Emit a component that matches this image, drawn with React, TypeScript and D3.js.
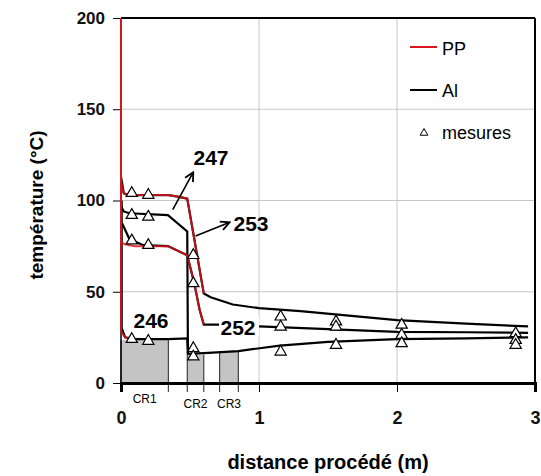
import React, { useRef, useEffect } from 'react';
import * as d3 from 'd3';

// simulated profiles (Al = black, PP = red), [distance m, temperature °C]
const al1: [number, number][] = [[0, 113], [0.02, 104], [0.05, 103], [0.34, 103], [0.42, 102], [0.48, 101], [0.6, 49], [0.65, 47], [0.81, 43], [1.0, 41], [1.3, 39.4], [2.0, 34.5], [2.5, 32.5], [2.95, 31]];
const al2: [number, number][] = [[0, 97], [0.02, 94], [0.06, 93], [0.34, 92], [0.48, 83], [0.485, 16]];
const al3: [number, number][] = [[0.005, 88], [0.06, 79], [0.16, 75.5], [0.34, 75], [0.48, 70], [0.53, 55], [0.57, 40], [0.6, 32], [0.7, 32], [1.0, 31], [1.5, 29.5], [2.0, 28], [2.5, 27.8], [2.95, 27.5]];
const al4: [number, number][] = [[0.005, 100], [0.005, 30], [0.03, 25], [0.1, 24], [0.34, 24], [0.48, 24.5], [0.485, 16], [0.6, 16.4], [0.85, 17.5], [1.15, 20.5], [1.5, 22.5], [2.0, 24], [2.5, 24.5], [2.95, 25]];

const pp1: [number, number][] = [[0, 200], [0, 110], [0.02, 104], [0.05, 103], [0.34, 103], [0.42, 102], [0.48, 101], [0.6, 49]];
const pp3: [number, number][] = [[0, 200], [0, 77], [0.03, 76], [0.1, 75], [0.34, 75], [0.48, 70], [0.53, 55], [0.57, 40], [0.6, 32]];
const pp4: [number, number][] = [[0, 200], [0, 28], [0.03, 25], [0.08, 24]];

// measurements
const mesX = [0.078, 0.198, 0.078, 0.198, 0.078, 0.198, 0.078, 0.198, 0.524, 0.524, 0.524, 0.524, 1.157, 1.157, 1.157, 1.558, 1.558, 1.558, 2.034, 2.034, 2.034, 2.86, 2.86, 2.86];
const mesT = [104, 103, 92, 91, 78, 75.5, 24, 23, 70, 54.6, 19, 14.4, 36.3, 30.8, 17.1, 33.6, 30.8, 20.8, 31.8, 26.3, 21.7, 27.2, 23.5, 20.8];

// cooling zones
const crNames = ['CR1', 'CR2', 'CR3'];
const crStart = [0, 0.48, 0.715];
const crEnd = [0.343, 0.6, 0.85];
const crTop = [23.5, 15.5, 17.5];

const xTicks = [0, 1, 2, 3];
const yTicks = [0, 50, 100, 150, 200];

const App: React.FC = () => {
  const svgRef = useRef<SVGSVGElement | null>(null);

  useEffect(() => {
    if (!svgRef.current) return;
    const svg = d3.select(svgRef.current);
    svg.selectAll('*').remove();

    const font = '"Liberation Sans", Arial, sans-serif';
    const red = '#d8141f';
    const x = d3.scaleLinear().domain([0, 3]).range([121, 535]);
    const y = d3.scaleLinear().domain([0, 200]).range([383, 18]);
    const line = d3.line<[number, number]>().x(d => x(d[0])).y(d => y(d[1]));

    // zones
    crNames.forEach((name, i) => {
      svg.append('rect')
        .attr('x', x(crStart[i])).attr('y', y(crTop[i]))
        .attr('width', x(crEnd[i]) - x(crStart[i])).attr('height', y(0) - y(crTop[i]))
        .attr('fill', '#c4c4c4');
      [crStart[i], crEnd[i]].forEach(v => {
        svg.append('line')
          .attr('x1', x(v)).attr('x2', x(v))
          .attr('y1', y(crTop[i])).attr('y2', y(0) + 9)
          .attr('stroke', '#222').attr('stroke-width', 1);
      });
    });

    // grid
    [1, 2].forEach(v => {
      svg.append('line').attr('x1', x(v)).attr('x2', x(v)).attr('y1', y(200)).attr('y2', y(0))
        .attr('stroke', '#c6c6c6').attr('stroke-width', 1);
    });
    [50, 100, 150].forEach(v => {
      svg.append('line').attr('x1', x(0)).attr('x2', x(3)).attr('y1', y(v)).attr('y2', y(v))
        .attr('stroke', '#c6c6c6').attr('stroke-width', 1);
    });

    // frame
    svg.append('line').attr('x1', x(0)).attr('x2', x(3)).attr('y1', y(200)).attr('y2', y(200))
      .attr('stroke', '#000').attr('stroke-width', 2);
    svg.append('line').attr('x1', x(3)).attr('x2', x(3)).attr('y1', y(200)).attr('y2', y(0))
      .attr('stroke', '#000').attr('stroke-width', 2);
    svg.append('line').attr('x1', x(0)).attr('x2', x(0)).attr('y1', y(200)).attr('y2', y(0))
      .attr('stroke', '#000').attr('stroke-width', 1.5);

    // axes
    const xAxis = svg.append('g').attr('transform', `translate(0,${y(0)})`)
      .call(d3.axisBottom(x).tickValues(xTicks).tickFormat(d3.format('d')).tickSize(9).tickPadding(19));
    xAxis.select('.domain').attr('stroke-width', 3);
    xAxis.selectAll('text').style('font-family', font).style('font-size', '18px').style('font-weight', 'bold').attr('fill', '#111');

    const yAxis = svg.append('g').attr('transform', `translate(${x(0)},0)`)
      .call(d3.axisLeft(y).tickValues(yTicks).tickSize(8).tickPadding(8));
    yAxis.select('.domain').remove();
    yAxis.selectAll('text').style('font-family', font).style('font-size', '17px').style('font-weight', 'bold').attr('fill', '#111');

    crNames.forEach((name, i) => {
      svg.append('text')
        .attr('x', (x(crStart[i]) + x(crEnd[i])) / 2)
        .attr('y', i === 0 ? 403 : 408)
        .attr('text-anchor', 'middle')
        .style('font-family', font).style('font-size', '12px')
        .text(name);
    });

    // curves
    [al1, al2, al3, al4].forEach(d => {
      svg.append('path').attr('d', line(d)).attr('fill', 'none')
        .attr('stroke', '#000').attr('stroke-width', 2.2);
    });
    [pp1, pp3, pp4].forEach(d => {
      svg.append('path').attr('d', line(d)).attr('fill', 'none')
        .attr('stroke', red).attr('stroke-width', 2).attr('stroke-opacity', 0.85);
    });

    // measures
    const tri = d3.symbol().type(d3.symbolTriangle).size(55);
    mesX.forEach((v, i) => {
      svg.append('path').attr('d', tri())
        .attr('transform', `translate(${x(v)},${y(mesT[i])})`)
        .attr('fill', '#fff').attr('stroke', '#000').attr('stroke-width', 1.2);
    });

    // annotations
    const defs = svg.append('defs');
    defs.append('marker').attr('id', 'arr').attr('viewBox', '0 0 10 10')
      .attr('refX', 8).attr('refY', 5).attr('markerWidth', 7).attr('markerHeight', 7)
      .attr('orient', 'auto')
      .append('path').attr('d', 'M1,1 L9,5 L1,9').attr('fill', 'none').attr('stroke', '#000').attr('stroke-width', 1.6);

    svg.append('line').attr('x1', x(0.375)).attr('y1', y(95)).attr('x2', x(0.52)).attr('y2', y(115))
      .attr('stroke', '#000').attr('stroke-width', 1.6).attr('marker-end', 'url(#arr)');
    svg.append('line').attr('x1', x(0.54)).attr('y1', y(80.5)).attr('x2', x(0.78)).attr('y2', y(87.8))
      .attr('stroke', '#000').attr('stroke-width', 1.6).attr('marker-end', 'url(#arr)');

    svg.append('rect').attr('x', 219).attr('y', 316).attr('width', 40).attr('height', 20).attr('fill', '#fff');

    const labels: [string, number, number][] = [['247', 211, 165], ['253', 251, 231], ['246', 151, 328], ['252', 238, 335]];
    labels.forEach(([t, lx, ly]) => {
      svg.append('text').attr('x', lx).attr('y', ly).attr('text-anchor', 'middle')
        .style('font-family', font).style('font-size', '21px').style('font-weight', 'bold')
        .text(t);
    });

    // legend
    svg.append('line').attr('x1', 410).attr('x2', 437).attr('y1', 47).attr('y2', 47)
      .attr('stroke', red).attr('stroke-width', 2);
    svg.append('line').attr('x1', 410).attr('x2', 437).attr('y1', 90).attr('y2', 90)
      .attr('stroke', '#000').attr('stroke-width', 2);
    svg.append('path').attr('d', d3.symbol().type(d3.symbolTriangle).size(26)())
      .attr('transform', 'translate(424,133)').attr('fill', '#fff').attr('stroke', '#000').attr('stroke-width', 1);
    [['PP', 55], ['Al', 97], ['mesures', 139]].forEach(([t, ly]) => {
      svg.append('text').attr('x', 442).attr('y', ly as number)
        .style('font-family', font).style('font-size', '18px').text(t as string);
    });

    // axis titles
    svg.append('text').attr('x', 328).attr('y', 469).attr('text-anchor', 'middle')
      .style('font-family', font).style('font-size', '20px').style('font-weight', 'bold')
      .text('distance procédé (m)');
    svg.append('text').attr('transform', 'translate(43,205) rotate(-90)').attr('text-anchor', 'middle')
      .style('font-family', font).style('font-size', '19px').style('font-weight', 'bold')
      .text('température (°C)');
  }, []);

  return (
    <svg ref={svgRef} width={541} height={476}
      style={{ position: 'absolute', left: 0, top: 0, background: '#fff' }} />
  );
};

export default App;
